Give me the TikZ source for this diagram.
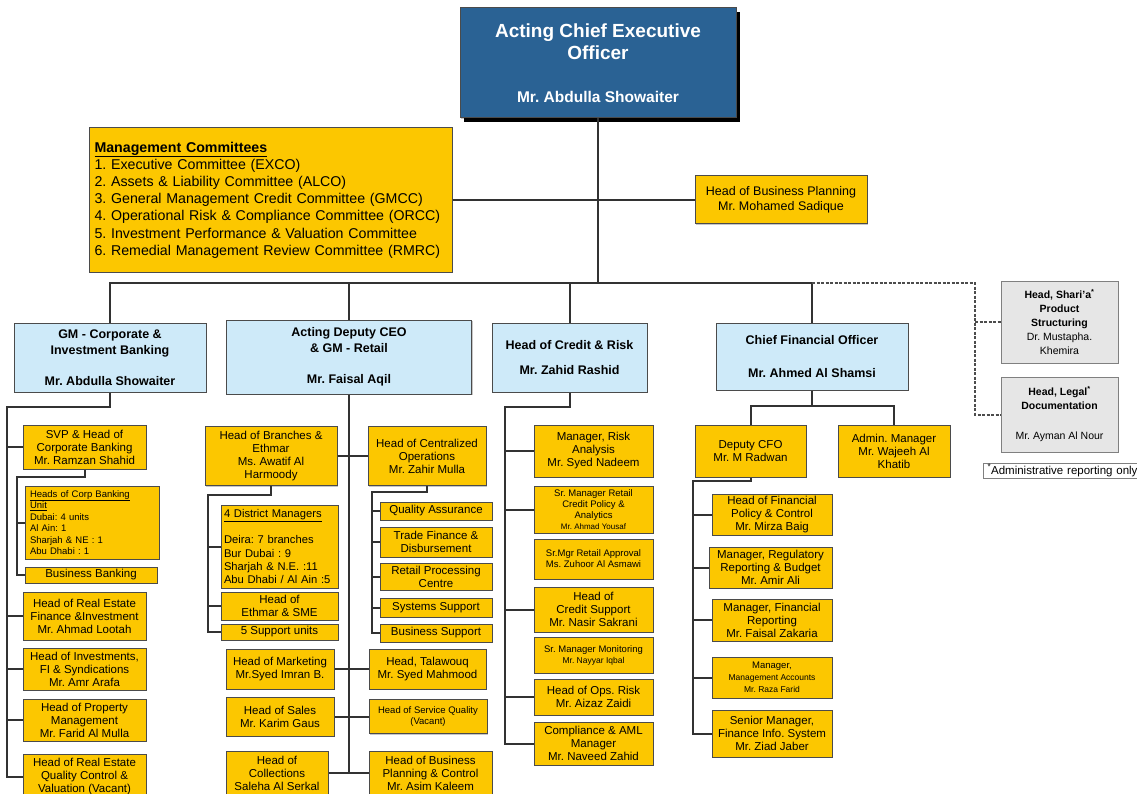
\documentclass[tikz,border=0pt]{standalone}
\usepackage{fontspec}
\setmainfont{Liberation Sans}
\frenchspacing
\usetikzlibrary{shadows}
\definecolor{ceoblue}{RGB}{42,98,148}
\definecolor{gold}{RGB}{252,199,0}
\definecolor{paleblue}{RGB}{206,234,249}
\definecolor{palegrey}{RGB}{230,230,230}
\definecolor{boxline}{RGB}{75,75,75}
\definecolor{wire}{RGB}{50,50,50}
\begin{document}
\begin{tikzpicture}[x=1pt,y=-1pt,
    sz/.style 2 args={minimum width=#1,minimum height=#2},
    base/.style={draw=boxline,line width=1pt,align=center,inner sep=1pt,
      drop shadow={shadow xshift=1.2pt,shadow yshift=-1.2pt,opacity=.45}},
    ybox/.style={base,fill=gold,font=\fontsize{11.5}{13}\selectfont},
    ysmall/.style={ybox,font=\fontsize{9.5}{11}\selectfont},
    bbox/.style={base,fill=paleblue,font=\bfseries\fontsize{12.5}{16}\selectfont},
    gbox/.style={base,draw=gray,fill=palegrey,font=\fontsize{10.5}{14}\selectfont},
    link/.style={draw=wire,line width=2pt},
    admin/.style={draw=gray!60!black,line width=2pt,dash pattern=on 3pt off 1.5pt}]
  \useasboundingbox (0,0) rectangle (1137,794);
  \clip (0,0) rectangle (1137,794);

  % Top
  \node[base,fill=ceoblue,text=white,sz={276}{110},font=\bfseries\fontsize{19}{22}\selectfont,
    drop shadow={shadow xshift=4pt,shadow yshift=-4pt,fill=black,opacity=1}] (ceo) at (598,63)
    {Acting Chief Executive\\Officer\\[21pt]\fontsize{15.5}{18}\selectfont Mr. Abdulla Showaiter};
  \node[ybox,align=left,text width=352,inner xsep=5.5pt,minimum height=144,
    font=\fontsize{14.2}{17.2}\selectfont] (committees) at (270.5,200)
    {\underline{\textbf{Management Committees}}\\
     1. Executive Committee (EXCO)\\
     2. Assets \& Liability Committee (ALCO)\\
     3. General Management Credit Committee (GMCC)\\
     4. Operational Risk \& Compliance Committee (ORCC)\\
     5. Investment Performance \& Valuation Committee\\
     6. Remedial Management Review Committee (RMRC)};
  \node[ybox,sz={172}{48},font=\fontsize{12.5}{15}\selectfont] (bizplan) at (781,200)
    {Head of Business Planning\\Mr. Mohamed Sadique};

  % Heads
  \node[bbox,sz={192}{69}] (gmcib) at (110,357.5)
    {GM - Corporate \&\\Investment Banking\\[15pt]Mr. Abdulla Showaiter};
  \node[bbox,sz={245}{74}] (retail) at (349,357)
    {Acting Deputy CEO\\\& GM - Retail\\[15pt]Mr. Faisal Aqil};
  \node[bbox,sz={155}{69}] (credit) at (569.5,357.5)
    {Head of Credit \& Risk\\[9pt]Mr. Zahid Rashid};
  \node[bbox,sz={192}{67}] (cfo) at (812,356.5)
    {Chief Financial Officer\\[17pt]Mr. Ahmed Al Shamsi};
  \node[gbox,sz={117}{82}] (sharia) at (1059.5,322)
    {\textbf{Head, Shari'a\textsuperscript{*}}\\\textbf{Product}\\\textbf{Structuring}\\Dr. Mustapha.\\Khemira};
  \node[gbox,sz={117}{75}] (legal) at (1059.5,414.5)
    {\textbf{Head, Legal\textsuperscript{*}}\\\textbf{Documentation}\\[16pt]Mr. Ayman Al Nour};
  \node[base,draw=gray,fill=white,anchor=west,minimum height=15,inner xsep=4pt,
    text width=170,align=left,font=\fontsize{11.5}{13}\selectfont] (note) at (983,470.5)
    {\textsuperscript{*}Administrative reporting only};

  % Corporate & investment banking
  \node[ybox,sz={123}{44}] (svp) at (84.5,447) {SVP \& Head of\\Corporate Banking\\Mr. Ramzan Shahid};
  \node[ysmall,align=left,text width=124,inner xsep=5pt,minimum height=73,
    font=\fontsize{9.5}{11.5}\selectfont] (cbunit) at (92,522.5)
    {\underline{Heads of Corp Banking}\\\underline{Unit}\\Dubai: 4 units\\Al Ain: 1\\Sharjah \& NE : 1\\Abu Dhabi : 1};
  \node[ybox,sz={132}{16}] (bizbank) at (91,575) {Business Banking};
  \node[ybox,sz={123}{48}] (refin) at (84.5,616) {Head of Real Estate\\Finance \&Investment\\Mr. Ahmad Lootah};
  \node[ybox,sz={123}{42}] (invest) at (84.5,669) {Head of Investments,\\FI \& Syndications\\Mr. Amr Arafa};
  \node[ybox,sz={123}{42}] (propm) at (84.5,720) {Head of Property\\Management\\Mr. Farid Al Mulla};
  \node[ybox,sz={123}{46}] (reqv) at (84.5,777) {Head of Real Estate\\Quality Control \&\\Valuation (Vacant)};

  % Retail
  \node[ybox,sz={132}{59}] (branches) at (271,456) {Head of Branches \&\\Ethmar\\Ms. Awatif Al\\Harmoody};
  \node[ybox,sz={118}{59}] (central) at (427,456) {Head of Centralized\\Operations\\Mr. Zahir Mulla};
  \node[ybox,align=left,text width=111,inner xsep=3pt,minimum height=83,
    font=\fontsize{11.2}{13.3}\selectfont] (district) at (279.5,546.5)
    {\underline{4 District Managers}\\[13.3pt]Deira: 7 branches\\Bur Dubai : 9\\Sharjah \& N.E. :11\\Abu Dhabi / Al Ain :5};
  \node[ybox,sz={117}{28}] (ethmar) at (279.5,606) {Head of\\Ethmar \& SME};
  \node[ybox,sz={117}{16}] (supp5) at (279.5,632) {5 Support units};
  \node[ybox,sz={112}{18}] (qa) at (436,511) {Quality Assurance};
  \node[ybox,sz={112}{30}] (trade) at (436,542) {Trade Finance \&\\Disbursement};
  \node[ybox,sz={112}{27}] (rpc) at (436,576.5) {Retail Processing\\Centre};
  \node[ybox,sz={112}{19}] (syssup) at (436,607.5) {Systems Support};
  \node[ybox,sz={112}{18}] (bizsup) at (436,633) {Business Support};
  \node[ybox,sz={108}{40}] (mkt) at (280,669) {Head of Marketing\\Mr.Syed Imran B.};
  \node[ybox,sz={117}{40}] (talawouq) at (427.5,669) {Head, Talawouq\\Mr. Syed Mahmood};
  \node[ybox,sz={108}{39}] (sales) at (280,716.5) {Head of  Sales\\Mr. Karim Gaus};
  \node[ysmall,sz={118}{34}] (servq) at (428,716.5) {Head of Service Quality\\(Vacant)};
  \node[ybox,sz={102}{44}] (coll) at (277,773) {Head of\\Collections\\Saleha Al Serkal};
  \node[ybox,sz={123}{44}] (bpc) at (430.5,773) {Head of Business\\Planning \& Control\\Mr. Asim Kaleem};

  % Credit & risk
  \node[ybox,sz={119}{52}] (riskan) at (593.5,451) {Manager, Risk\\Analysis\\Mr. Syed Nadeem};
  \node[ysmall,sz={119}{47}] (rcpol) at (593.5,509.5)
    {Sr. Manager Retail\\Credit Policy \&\\Analytics\\{\fontsize{8}{10}\selectfont Mr. Ahmad Yousaf}};
  \node[ysmall,sz={119}{40}] (rappr) at (593.5,559) {Sr.Mgr Retail Approval\\Ms. Zuhoor Al Asmawi};
  \node[ybox,sz={119}{45}] (credsup) at (593.5,609.5) {Head of\\Credit Support\\Mr. Nasir Sakrani};
  \node[ysmall,sz={119}{36}] (monit) at (593.5,655)
    {Sr. Manager Monitoring\\{\fontsize{8.5}{10}\selectfont Mr. Nayyar Iqbal}};
  \node[ybox,sz={119}{36}] (opsrisk) at (593.5,697) {Head of Ops.  Risk\\Mr. Aizaz Zaidi};
  \node[ybox,sz={119}{43}] (compl) at (593.5,743.5) {Compliance \& AML\\Manager\\Mr. Naveed Zahid};

  % Finance
  \node[ybox,sz={111}{52}] (dcfo) at (750.5,451) {Deputy CFO\\Mr. M Radwan};
  \node[ybox,sz={112}{52}] (admin) at (894,451) {Admin. Manager\\Mr. Wajeeh Al\\Khatib};
  \node[ybox,sz={120}{41}] (fpc) at (772,514.5) {Head of Financial\\Policy \& Control\\Mr. Mirza Baig};
  \node[ybox,sz={123}{41}] (regrep) at (770.5,567.5) {Manager, Regulatory\\Reporting \& Budget\\Mr. Amir Ali};
  \node[ybox,sz={120}{42}] (finrep) at (772,620) {Manager, Financial\\Reporting\\Mr. Faisal Zakaria};
  \node[ysmall,sz={120}{41},font=\fontsize{9.5}{12}\selectfont] (mgmtacc) at (772,677.5)
    {Manager,\\{\fontsize{8.5}{10}\selectfont Management Accounts}\\{\fontsize{8.5}{10}\selectfont Mr. Raza Farid}};
  \node[ybox,sz={120}{47}] (fis) at (772,733.5) {Senior Manager,\\Finance Info. System\\Mr. Ziad Jaber};

  % Lines
  \coordinate (bus) at (598,283);
  \coordinate (adm) at (975,283);
  \draw[link] (ceo.south) -- (bus);
  \draw[link] (committees.east) -- (bizplan.west);
  \draw[link] (gmcib.north) |- (bus) -| (cfo.north);
  \draw[link] (retail.north) -- (retail.north |- bus);
  \draw[link] (credit.north) -- (credit.north |- bus);
  \draw[admin] (cfo.north |- bus) -- (adm) |- (legal.west);
  \draw[admin] (adm |- sharia.west) -- (sharia.west);

  \coordinate (cibspine) at (7,407);
  \draw[link] (gmcib.south) |- (cibspine) |- (reqv.west);
  \foreach \n in {svp,refin,invest,propm}
    \draw[link] (cibspine |- \n.west) -- (\n.west);
  \coordinate (cbspine) at (17,477);
  \draw[link] (svp.south) |- (cbspine) |- (bizbank.west);
  \draw[link] (cbspine |- cbunit.west) -- (cbunit.west);

  \draw[link] (retail.south) -- (retail.south |- coll.east);
  \draw[link] (branches.east) -- (central.west);
  \draw[link] (mkt.east) -- (talawouq.west);
  \draw[link] (sales.east) -- (servq.west);
  \draw[link] (coll.east) -- (bpc.west);
  \coordinate (brspine) at (208,495);
  \draw[link] (branches.south) |- (brspine) |- (supp5.west);
  \foreach \n in {district,ethmar}
    \draw[link] (brspine |- \n.west) -- (\n.west);
  \coordinate (cospine) at (372,492);
  \draw[link] (central.south) |- (cospine) |- (bizsup.west);
  \foreach \n in {qa,trade,rpc,syssup}
    \draw[link] (cospine |- \n.west) -- (\n.west);

  \coordinate (crspine) at (505,407);
  \draw[link] (credit.south) |- (crspine) |- (compl.west);
  \foreach \n in {riskan,rcpol,credsup,opsrisk}
    \draw[link] (crspine |- \n.west) -- (\n.west);

  \draw[link] (cfo.south) -- ++(0,15) coordinate (cfobar);
  \draw[link] (dcfo.north) |- (cfobar) -| (admin.north);
  \coordinate (fispine) at (693,481);
  \draw[link] (dcfo.south) |- (fispine) |- (fis.west);
  \foreach \n in {fpc,regrep,finrep,mgmtacc}
    \draw[link] (fispine |- \n.west) -- (\n.west);
\end{tikzpicture}
\end{document}
